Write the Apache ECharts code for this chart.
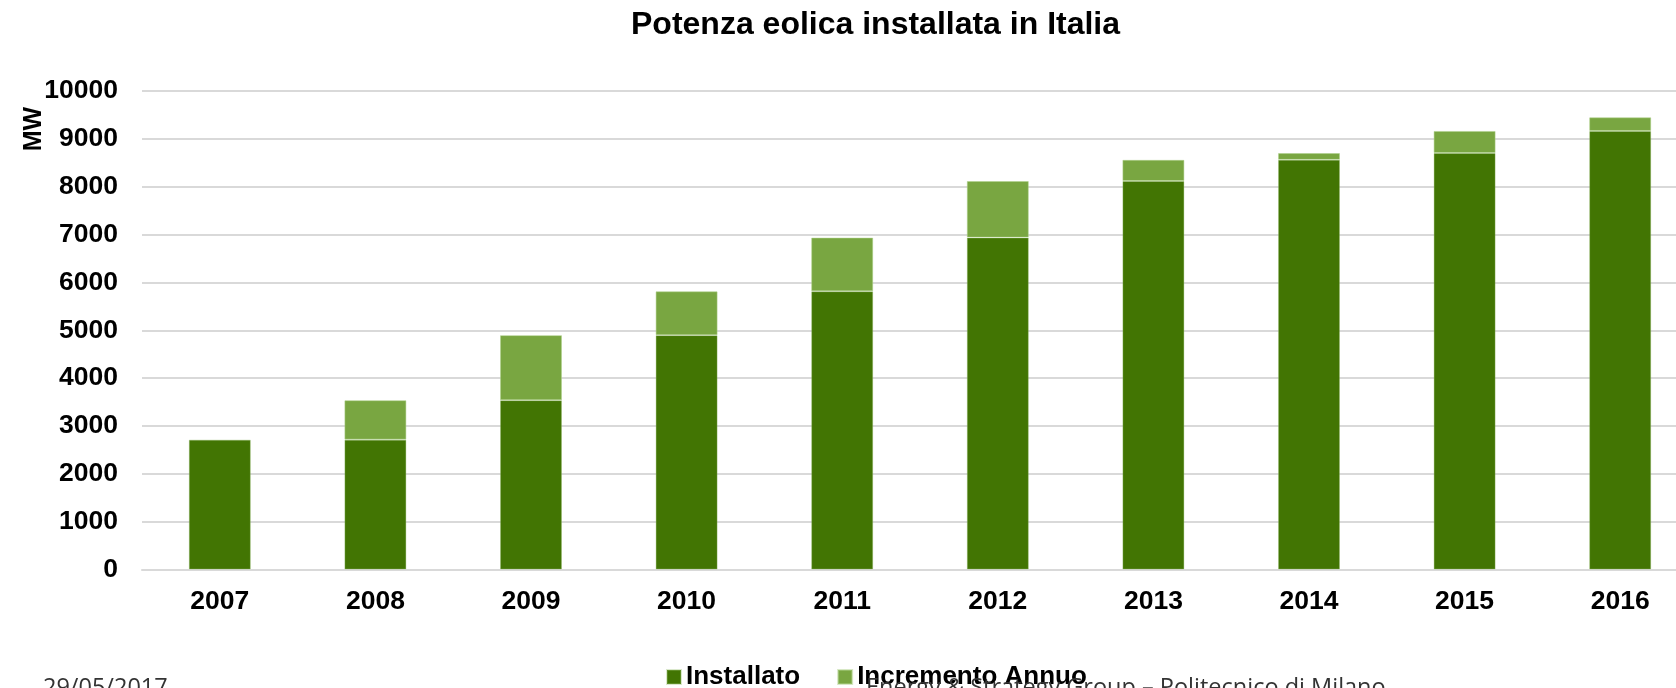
<!DOCTYPE html>
<html>
<head>
<meta charset="utf-8">
<title>Potenza eolica installata in Italia</title>
<script src="https://cdn.jsdelivr.net/npm/echarts@6/dist/echarts.min.js"></script>
<style>
  html, body { margin: 0; padding: 0; background: #ffffff; overflow: hidden; }
  /* the plot area runs past the right edge of the window, so the canvas is wider than the view */
  #chart { width: 1698px; height: 688px; }
</style>
</head>
<body>
<div id="chart"></div>
<script>
// Installed wind power in Italy (MW): capacity at the start of each year plus the yearly increase
const years = ['2007', '2008', '2009', '2010', '2011', '2012', '2013', '2014', '2015', '2016'];
const installato = [2714, 2714, 3538, 4898, 5814, 6936, 8119, 8561, 8703, 9165];
const incremento = [null, 824, 1360, 916, 1122, 1183, 442, 142, 462, 285];
const yTicks = { min: 0, max: 10000, step: 1000 };

const FONT = '"Liberation Sans", Arial, sans-serif';
const DARK = '#427503';
const LIGHT = '#79a641';
const GRID = '#d9d9d9';

const chart = echarts.init(document.getElementById('chart'), null, { renderer: 'canvas' });

chart.setOption({
  animation: false,
  backgroundColor: '#ffffff',
  title: {
    text: 'Potenza eolica installata in Italia',
    left: 631,
    top: 9,
    padding: 0,
    textStyle: { fontFamily: FONT, fontSize: 32, fontWeight: 'bold', color: '#000000' }
  },
  legend: {
    data: ['Installato', 'Incremento Annuo'],
    left: 666,
    top: 664,
    padding: 0,
    itemWidth: 14,
    itemHeight: 14,
    itemGap: 37,
    icon: 'rect',
    textStyle: { fontFamily: FONT, fontSize: 26, fontWeight: 'bold', color: '#000000' }
  },
  grid: { left: 142, right: 0, top: 91, bottom: 118.5, containLabel: false },
  xAxis: {
    type: 'category',
    data: years,
    axisLine: { show: true, lineStyle: { color: GRID, width: 2 } },
    axisTick: { show: false },
    axisLabel: { margin: 19, fontFamily: FONT, fontSize: 26.5, fontWeight: 'bold', color: '#000000' }
  },
  yAxis: {
    type: 'value',
    min: yTicks.min,
    max: yTicks.max,
    interval: yTicks.step,
    axisLine: { show: false },
    axisTick: { show: false },
    splitLine: { show: true, lineStyle: { color: GRID, width: 2 } },
    axisLabel: {
      margin: 24,
      formatter: (v) => String(v),
      fontFamily: FONT, fontSize: 26.5, fontWeight: 'bold', color: '#000000'
    }
  },
  series: [
    {
      name: 'Installato',
      type: 'bar',
      stack: 'totale',
      data: installato,
      barWidth: 62,
      itemStyle: { color: DARK, borderColor: 'rgba(150,190,110,0.35)', borderWidth: 1 }
    },
    {
      name: 'Incremento Annuo',
      type: 'bar',
      stack: 'totale',
      data: incremento,
      barWidth: 62,
      itemStyle: { color: LIGHT, borderColor: 'rgba(175,210,140,0.5)', borderWidth: 1 }
    }
  ],
  graphic: [
    {
      type: 'text',
      x: 34,
      y: 129,
      rotation: Math.PI / 2,
      style: {
        text: 'MW',
        font: 'bold 25px ' + FONT,
        fill: '#000000',
        align: 'center',
        verticalAlign: 'middle'
      }
    },
    {
      type: 'text',
      x: 43,
      y: 676,
      z: 10,
      style: {
        text: '29/05/2017',
        font: '23.5px "Open Sans", sans-serif',
        fill: '#333333',
        align: 'left',
        verticalAlign: 'top'
      }
    },
    {
      type: 'text',
      x: 866,
      y: 676,
      z: 10,
      style: {
        text: 'Energy & Strategy Group – Politecnico di Milano',
        font: '23.5px "Open Sans", sans-serif',
        fill: '#333333',
        align: 'left',
        verticalAlign: 'top'
      }
    }
  ]
});
</script>
</body>
</html>
